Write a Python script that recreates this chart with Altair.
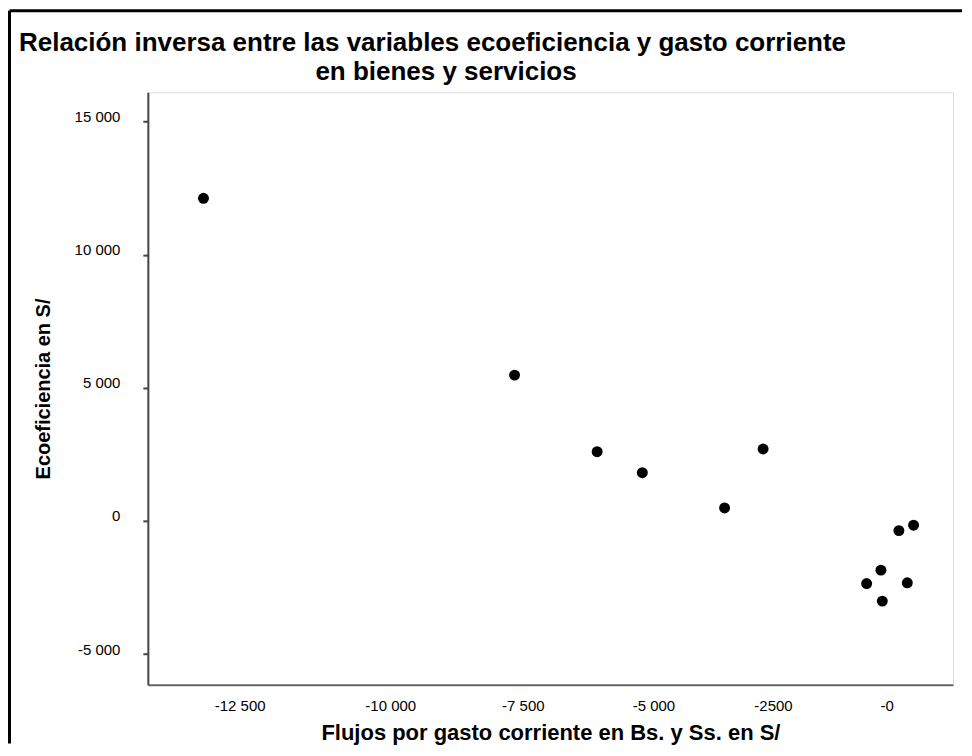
import altair as alt
import pandas as pd

# ---- data ----
gasto = [-13700, -7698, -6105, -5233, -2903, -3646, 0, -283, -630, -905, -121, -603]
eco = [12116, 5476, 2600, 1812, 2701, 488, -161, -364, -1849, -2352, -2326, -3012]

x_ticks = [-12500, -10000, -7500, -5000, -2500, 0]
x_tick_labels = ["-12 500", "-10 000", "-7 500", "-5 000", "-2500", "-0"]
x_label_shift = [-26, -5, -2, -1, -11, -27]

y_ticks = [-5000, 0, 5000, 10000, 15000]
y_tick_labels = ["-5 000", "0", "5 000", "10 000", "15 000"]

title_line1 = "Relación inversa entre las variables ecoeficiencia y gasto corriente"
title_line2 = "en bienes y servicios"
x_title = "Flujos por gasto corriente en Bs. y Ss. en S/"
y_title = "Ecoeficiencia en S/"

FONT = "Liberation Sans"
W, H = 806, 593

df = pd.DataFrame({"gasto": gasto, "eco": eco})


def label_expr(vals, labels):
    expr = "''"
    for v, l in reversed(list(zip(vals, labels))):
        expr = f"(datum.value == {v} ? '{l}' : {expr})"
    return expr


x_offset_cond = {
    "condition": [
        {"test": f"datum.value == {v}", "value": s} for v, s in zip(x_ticks, x_label_shift)
    ],
    "value": 0,
}

x_axis = alt.Axis(
    values=x_ticks,
    labelExpr=label_expr(x_ticks, x_tick_labels),
    labelOffset=x_offset_cond,
    ticks=False,
    labelPadding=26,
    labelBaseline="alphabetic",
    labelFont=FONT,
    labelFontSize=15,
    labelColor="black",
    labelFlush=False,
    labelOverlap=False,
    grid=False,
    domainColor="#666",
    domainWidth=2,
    title=x_title,
    titleFont=FONT,
    titleFontSize=22,
    titleFontWeight="bold",
    titleColor="black",
    titleBaseline="alphabetic",
    titleY=55,
)

y_axis = alt.Axis(
    values=y_ticks,
    labelExpr=label_expr(y_ticks, y_tick_labels),
    labelOffset=-5,
    tickSize=5,
    tickWidth=2,
    tickColor="#444",
    labelPadding=23,
    labelFont=FONT,
    labelFontSize=15,
    labelColor="black",
    labelFlush=False,
    labelOverlap=False,
    grid=False,
    domainColor="#444",
    domainWidth=2,
    title=y_title,
    titleFont=FONT,
    titleFontSize=20,
    titleFontWeight="bold",
    titleColor="black",
    titleBaseline="middle",
    titleX=-104,
)

points = alt.Chart(df).mark_circle(size=120, color="black", opacity=1).encode(
    x=alt.X("gasto:Q", scale=alt.Scale(domain=[-14773, 761], nice=False, zero=False), axis=x_axis),
    y=alt.Y("eco:Q", scale=alt.Scale(domain=[-6151, 16099], nice=False, zero=False), axis=y_axis),
)

one = pd.DataFrame({"k": [0]})

title1 = alt.Chart(one).mark_text(
    text=title_line1, align="left", baseline="alphabetic", font=FONT,
    fontSize=26, fontWeight="bold", color="black",
).encode(x=alt.value(-129), y=alt.value(-41.7))

title2 = alt.Chart(one).mark_text(
    text=title_line2, align="center", baseline="alphabetic", font=FONT,
    fontSize=26, fontWeight="bold", color="black",
).encode(x=alt.value(298.5), y=alt.value(-12.7))

border_top = alt.Chart(one).mark_rule(color="black", strokeWidth=3).encode(
    x=alt.value(-138.5), x2=alt.value(815), y=alt.value(-81.7)
)
border_left = alt.Chart(one).mark_rule(color="black", strokeWidth=3).encode(
    x=alt.value(-138.5), y=alt.value(-81.7), y2=alt.value(652)
)

chart = (
    alt.layer(points, title1, title2, border_top, border_left)
    .properties(width=W, height=H, padding={"left": 0, "top": 0, "right": 0, "bottom": 0})
    .configure_view(stroke="#777", strokeWidth=2)
    .configure(background="white")
)

chart.save("out.html", embed_options={"renderer": "svg", "actions": False})
